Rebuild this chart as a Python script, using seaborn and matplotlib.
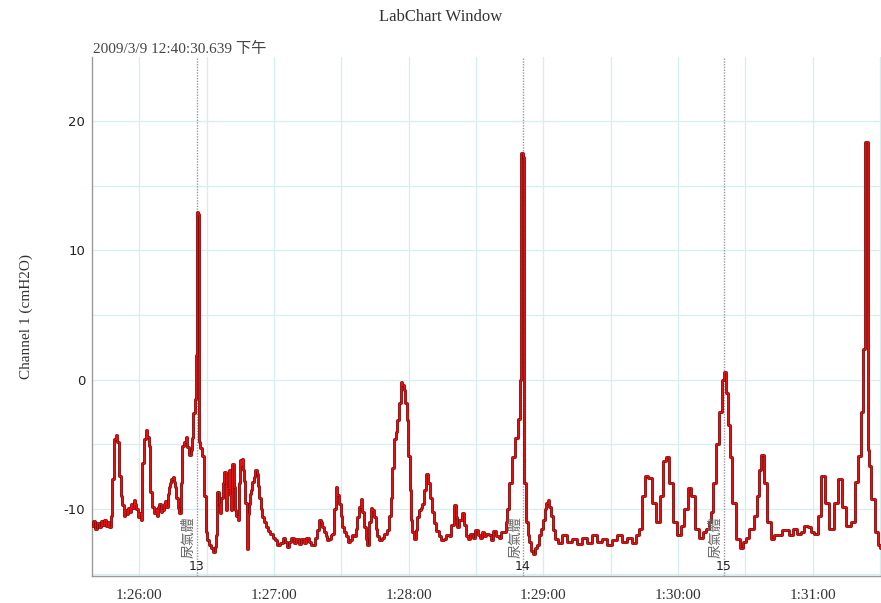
import matplotlib
matplotlib.use("Agg")
import matplotlib.pyplot as plt
import matplotlib.transforms as mtransforms
from matplotlib.ticker import MultipleLocator, FuncFormatter
import seaborn as sns

# time in seconds relative to 1:26:00, pressure in cmH2O
times_s = [
    -20.9, -20.0, -19.2, -18.4, -17.6, -16.8, -16.0, -15.2, -14.4, -13.7,
    -13.1, -12.3, -11.6, -10.8, -10.2, -9.4, -8.6, -7.8, -7.1, -6.5,
    -5.9, -5.2, -4.6, -4.0, -3.3, -2.7, -2.1, -1.5, -1.0, -0.4,
    0.3, 1.1, 1.8, 2.5, 3.3, 3.9, 4.5, 5.5, 6.2, 7.0,
    7.6, 8.1, 8.7, 9.2, 9.9, 10.7, 11.3, 11.9, 12.4, 12.9,
    13.5, 14.1, 14.6, 15.1, 15.6, 16.1, 16.9, 17.5, 18.1, 18.9,
    19.6, 20.4, 21.1, 21.9, 22.6, 23.3, 23.9, 24.4, 25.3, 25.7,
    26.1, 26.6, 26.9, 27.7, 28.5, 29.3, 30.0, 30.8, 31.5, 32.4,
    33.3, 33.9, 34.5, 35.2, 35.8, 36.3, 36.9, 37.4, 38.2, 38.9,
    39.5, 40.1, 40.6, 41.2, 41.9, 42.4, 42.9, 43.5, 44.1, 44.7,
    45.2, 45.7, 46.1, 46.6, 47.1, 47.6, 48.1, 48.5, 49.0, 49.6,
    50.1, 50.8, 51.5, 52.1, 52.6, 53.2, 53.8, 54.5, 55.2, 56.0,
    56.7, 57.8, 59.0, 59.9, 60.9, 62.0, 63.4, 64.3, 65.3, 66.2,
    67.1, 68.2, 69.3, 70.5, 71.6, 72.7, 73.8, 74.9, 76.0, 77.5,
    79.0, 79.7, 80.5, 81.2, 82.0, 82.7, 83.5, 84.2, 84.9, 85.7,
    86.4, 87.1, 87.9, 88.6, 89.4, 90.1, 90.9, 91.6, 92.4, 93.3,
    94.3, 95.2, 96.1, 96.8, 97.5, 98.3, 99.1, 99.8, 100.5, 101.3,
    102.0, 102.8, 103.5, 104.2, 105.0, 105.8, 106.5, 107.6, 108.7, 109.8,
    110.9, 111.7, 112.4, 113.2, 113.9, 114.7, 115.4, 116.2, 116.9, 117.6,
    118.3, 118.9, 119.4, 120.3, 120.8, 121.3, 122.0, 122.8, 123.5, 124.3,
    125.0, 125.8, 126.5, 127.4, 128.3, 129.2, 130.2, 131.0, 131.7, 132.8,
    133.9, 135.0, 136.2, 137.3, 138.4, 139.5, 140.6, 141.4, 142.1, 143.2,
    144.3, 145.1, 145.8, 147.0, 148.1, 149.2, 150.3, 151.2, 152.2, 153.1,
    154.0, 155.1, 156.2, 157.3, 158.4, 159.5, 160.7, 161.8, 162.9, 163.6,
    164.2, 165.6, 166.9, 168.2, 169.1, 170.0, 170.5, 171.1, 171.8, 172.7,
    173.4, 174.0, 174.9, 175.8, 176.7, 177.6, 178.5, 179.4, 180.3, 181.1,
    181.8, 182.5, 183.1, 183.8, 184.7, 185.6, 187.5, 189.6, 191.5, 194.1,
    196.0, 198.5, 200.5, 203.0, 205.0, 207.4, 209.5, 211.9, 214.0, 216.3,
    218.5, 220.8, 222.0, 223.0, 224.8, 226.1, 227.5, 229.2, 231.0, 232.8,
    234.1, 235.5, 236.8, 238.6, 240.8, 242.2, 243.5, 245.3, 246.6, 248.4,
    250.6, 252.0, 253.3, 254.2, 255.1, 256.4, 257.8, 259.1, 260.0, 260.9,
    261.8, 262.7, 263.5, 264.9, 266.7, 268.4, 269.6, 270.7, 272.9, 274.7,
    275.6, 276.5, 277.8, 279.1, 280.5, 282.3, 283.8, 285.4, 287.0, 288.5,
    290.2, 292.0, 293.8, 295.6, 297.1, 298.7, 300.0, 301.4, 303.2, 304.7,
    306.3, 308.4, 310.3, 312.1, 313.9, 316.1, 317.9, 319.5, 321.0, 322.2,
    323.2, 323.9, 324.3, 324.7, 325.5, 326.9, 328.4, 329.9, 330.5,
]
pressure = [
    -11.3, -10.9, -11.5, -11.1, -11.4, -10.9, -11.2, -10.8, -11.3, -11.0,
    -11.4, -10.5, -7.7, -4.6, -4.3, -4.8, -7.4, -9.0, -9.7, -10.5,
    -10.1, -10.4, -9.9, -10.2, -9.6, -9.9, -9.3, -9.6, -10.0, -10.6,
    -10.3, -10.8, -6.4, -4.6, -3.9, -4.4, -5.1, -8.7, -9.8, -10.3,
    -10.0, -10.5, -9.8, -9.6, -10.2, -10.1, -9.6, -9.4, -9.8, -8.8,
    -8.3, -8.0, -7.7, -7.5, -7.9, -8.3, -9.1, -9.9, -10.3, -8.0,
    -5.1, -4.8, -4.4, -5.2, -5.8, -5.4, -4.5, -2.6, -1.5, 1.9,
    13.0, 12.8, -4.8, -5.3, -5.9, -9.0, -11.8, -12.4, -12.8, -13.0,
    -13.3, -12.9, -12.0, -8.7, -9.6, -10.3, -9.1, -8.0, -7.1, -10.1,
    -8.4, -7.0, -8.9, -10.1, -6.5, -8.3, -10.1, -10.5, -10.8, -8.0,
    -6.2, -6.6, -6.1, -7.0, -7.8, -9.5, -13.1, -10.4, -9.6, -8.8,
    -8.5, -7.9, -7.5, -7.0, -7.3, -8.2, -9.1, -10.0, -10.6, -11.0,
    -11.4, -11.7, -11.9, -12.2, -12.4, -12.8, -12.6, -12.2, -12.5, -12.9,
    -12.5, -12.2, -12.6, -12.3, -12.7, -12.3, -12.6, -12.2, -12.5, -12.8,
    -12.2, -11.6, -10.8, -11.0, -11.4, -11.8, -12.1, -12.4, -12.3, -12.0,
    -11.9, -10.0, -8.3, -8.9, -9.6, -10.5, -11.4, -11.8, -12.1, -12.5,
    -12.4, -12.0, -12.1, -11.5, -10.6, -9.8, -9.2, -10.2, -11.4, -12.3,
    -12.8, -11.0, -9.9, -10.1, -10.6, -11.5, -12.1, -12.4, -12.2, -11.9,
    -11.6, -10.5, -9.1, -6.8, -4.6, -4.0, -3.1, -1.8, -0.2, -0.4,
    -0.8, -1.8, -3.1, -5.9, -8.5, -10.8, -11.8, -12.3, -11.6, -10.6,
    -10.1, -9.9, -9.6, -8.5, -7.3, -8.0, -9.1, -10.2, -11.1, -11.7,
    -12.1, -12.4, -12.3, -12.0, -12.1, -11.2, -9.7, -10.6, -11.4, -10.8,
    -10.3, -11.2, -12.1, -12.3, -11.9, -12.2, -11.6, -12.0, -12.2, -11.8,
    -12.1, -11.9, -12.0, -12.4, -11.7, -12.1, -12.2, -11.8, -11.8, -11.0,
    -10.0, -8.0, -6.0, -4.5, -3.0, 0.0, 17.5, 17.2, -8.0, -11.0,
    -12.0, -12.5, -13.2, -13.5, -13.0, -12.8, -12.0, -11.5, -10.8, -10.0,
    -9.5, -9.3, -9.8, -10.5, -11.6, -12.3, -12.6, -12.0, -12.5, -12.3,
    -12.7, -12.2, -12.6, -12.0, -12.5, -12.3, -12.8, -12.4, -12.0, -12.5,
    -12.2, -12.6, -12.0, -11.5, -9.0, -7.4, -7.6, -9.5, -11.0, -9.0,
    -6.3, -6.0, -8.0, -11.0, -12.0, -11.3, -10.0, -8.4, -9.0, -11.5,
    -12.2, -11.8, -11.5, -11.0, -10.2, -8.0, -5.0, -2.5, 0.0, 0.6,
    -1.0, -3.5, -6.0, -9.5, -12.3, -13.0, -12.5, -12.2, -11.5, -10.5,
    -9.0, -7.0, -5.8, -8.0, -11.0, -12.3, -12.0, -12.0, -11.6, -11.6,
    -12.0, -11.5, -11.9, -11.8, -11.3, -11.4, -11.8, -11.9, -10.5, -7.4,
    -9.5, -11.5, -9.5, -7.7, -9.8, -11.3, -11.0, -7.9, -5.9, -2.5,
    2.4, 18.4, 18.4, -5.4, -6.7, -9.2, -11.8, -12.8, -13.0,
]

# comment markers
marker_times = [25.6, 171.0, 260.4]
marker_ids = ["13", "14", "15"]
marker_text = "尿氣體"

START = 5160  # 1:26:00 in seconds


def fmt_time(v, pos):
    s = int(round(START + v))
    return f"{s // 3600}:{(s % 3600) // 60:02d}:{s % 60:02d}"


sns.set_style("white")
plt.rcParams["axes.unicode_minus"] = False
serif = ["Liberation Serif", "Noto Sans CJK TC"]

fig = plt.figure(figsize=(8.81, 6.03), dpi=100)
ax = fig.add_axes([0.1045, 0.044, 0.8955, 0.8615])

# dark outline then bright red body, like the LabChart trace
ax.plot(times_s, pressure, drawstyle="steps-mid", color="#8a0000", lw=2.0, zorder=3)
sns.lineplot(x=times_s, y=pressure, ax=ax, drawstyle="steps-mid", color="#e01212",
             lw=0.8, estimator=None, sort=False, zorder=4)

ax.set_xlim(-21, 330.5)
ax.set_ylim(-15.2, 24.95)

ax.xaxis.set_major_locator(MultipleLocator(60))
ax.xaxis.set_minor_locator(MultipleLocator(30))
ax.xaxis.set_major_formatter(FuncFormatter(fmt_time))
ax.yaxis.set_major_locator(MultipleLocator(10))
ax.yaxis.set_minor_locator(MultipleLocator(5))

ax.grid(True, which="both", color="#d5eeee", lw=0.9)
ax.set_axisbelow(True)

for side in ["top", "right"]:
    ax.spines[side].set_visible(False)
for side in ["left", "bottom"]:
    ax.spines[side].set_color("#9a9a9a")
    ax.spines[side].set_linewidth(1.0)

ax.tick_params(axis="x", which="both", direction="out", length=3, color="#9a9a9a",
               labelsize=11, labelcolor="#333333", pad=6)
ax.tick_params(axis="y", which="both", direction="out", length=2, color="#9a9a9a",
               labelsize=9.5, labelcolor="#222222", pad=3)
for lab in ax.get_xticklabels():
    lab.set_family(serif)
for lab in ax.get_yticklabels():
    lab.set_family(["DejaVu Sans"])

ax.set_xlabel("")
ax.set_ylabel("Channel 1 (cmH2O)", family=serif, fontsize=11, color="#333333", labelpad=22)

fig.text(0.5, 0.972, "LabChart Window", ha="center", va="center", family=serif,
         fontsize=12, color="#333333")
fig.text(0.106, 0.918, "2009/3/9 12:40:30.639 下午", ha="left", va="center",
         family=serif, fontsize=11, color="#444444")

# vertical comment lines with rotated labels and numbers
for t, num in zip(marker_times, marker_ids):
    ax.axvline(t, color="#999999", lw=1.0, ls=(0, (1, 1)), zorder=2)
    trans = mtransforms.offset_copy(ax.transData, fig=fig, x=-0.5, y=0, units="points")
    ax.text(t, -13.75, marker_text, rotation=90, ha="right", va="bottom",
            family=["Noto Sans CJK TC"], fontsize=10, color="#666666",
            transform=trans, zorder=5)
    ax.text(t, -14.45, num, ha="center", va="center", family=["DejaVu Sans"],
            fontsize=9, color="#222222", zorder=5)

fig.savefig("out.png", dpi=100)
